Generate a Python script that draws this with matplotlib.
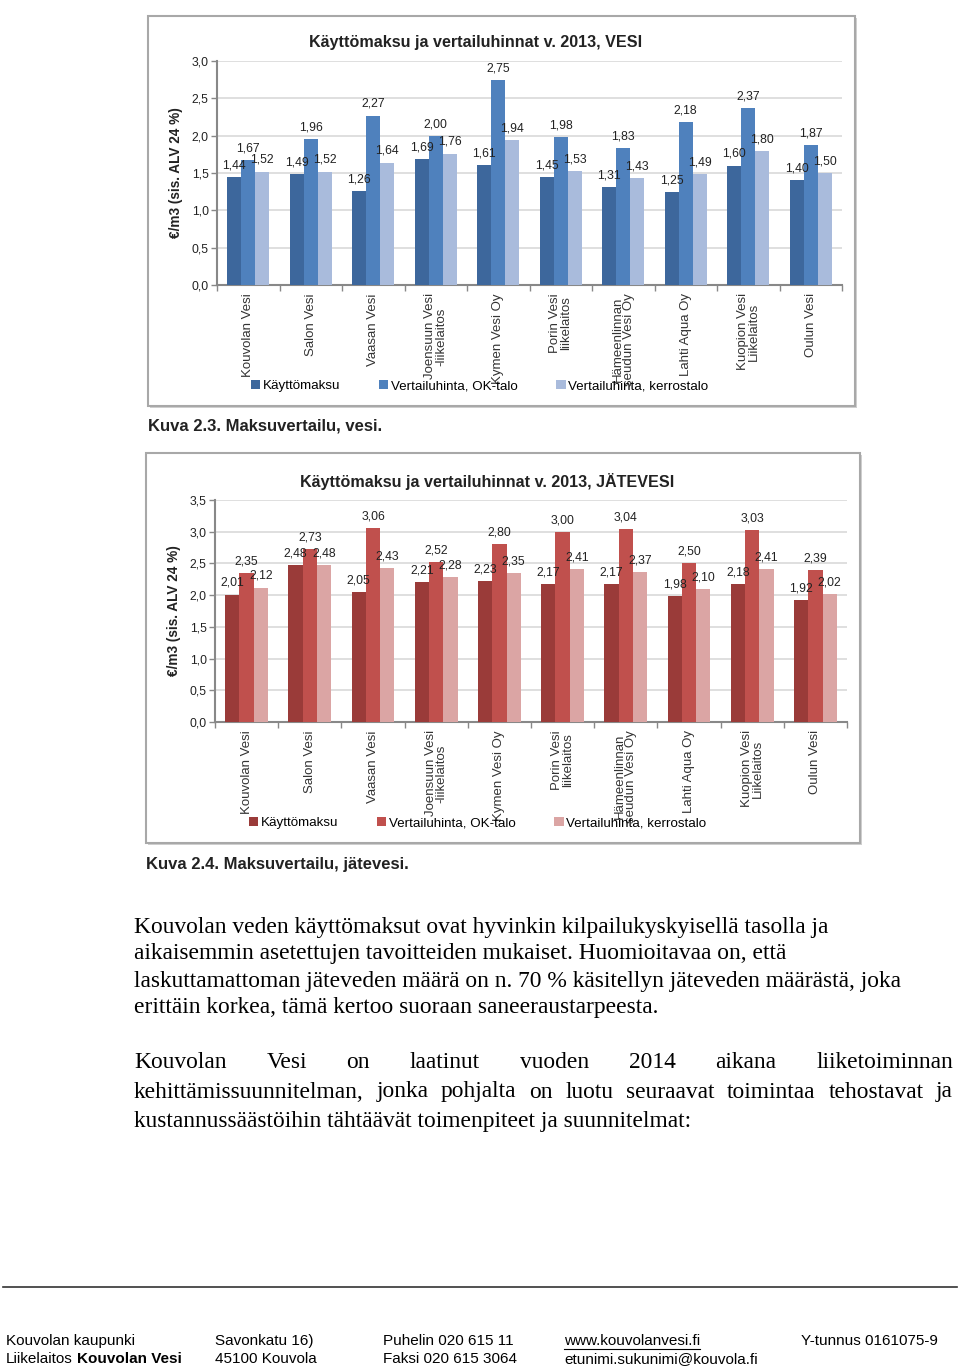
import matplotlib
matplotlib.use("Agg")
import matplotlib.pyplot as plt
import numpy as np
from matplotlib.patches import Rectangle, Patch
from matplotlib import font_manager

W, H = 960, 1372

categories = ["Kouvolan Vesi", "Salon Vesi", "Vaasan Vesi", "Joensuun Vesi\n-liikelaitos",
              "Kymen Vesi Oy", "Porin Vesi\nliikelaitos", "Hämeenlinnan\nseudun Vesi Oy",
              "Lahti Aqua Oy", "Kuopion Vesi\nLiikelaitos", "Oulun Vesi"]
series_names = ["Käyttömaksu", "Vertailuhinta, OK-talo", "Vertailuhinta, kerrostalo"]

vesi_kaytto = [1.44, 1.49, 1.26, 1.69, 1.61, 1.45, 1.31, 1.25, 1.60, 1.40]
vesi_ok = [1.67, 1.96, 2.27, 2.00, 2.75, 1.98, 1.83, 2.18, 2.37, 1.87]
vesi_kerros = [1.52, 1.52, 1.64, 1.76, 1.94, 1.53, 1.43, 1.49, 1.80, 1.50]

jate_kaytto = [2.01, 2.48, 2.05, 2.21, 2.23, 2.17, 2.17, 1.98, 2.18, 1.92]
jate_ok = [2.35, 2.73, 3.06, 2.52, 2.80, 3.00, 3.04, 2.50, 3.03, 2.39]
jate_kerros = [2.12, 2.48, 2.43, 2.28, 2.35, 2.41, 2.37, 2.10, 2.41, 2.02]

vesi_yticks = [0.0, 0.5, 1.0, 1.5, 2.0, 2.5, 3.0]
jate_yticks = [0.0, 0.5, 1.0, 1.5, 2.0, 2.5, 3.0, 3.5]

avail = {f.name for f in font_manager.fontManager.ttflist}
NARROW = ["Liberation Sans Narrow", "Liberation Sans", "DejaVu Sans"]
NARROW = [f for f in NARROW if f in avail] or ["DejaVu Sans"]
SERIF = ["Liberation Serif", "DejaVu Serif"]

fig = plt.figure(figsize=(W / 100, H / 100), dpi=100)
fig.patch.set_facecolor("white")


def px_axes(x0, y0, x1, y1, **kw):
    return fig.add_axes([x0 / W, 1 - y1 / H, (x1 - x0) / W, (y1 - y0) / H], **kw)


def chart(box, plot, title, title_x, series, colors, yticks, ymax, caption, capy):
    bx0, by0, bx1, by1 = box
    fig.patches.append(Rectangle(((bx0 + 2) / W, 1 - (by1 + 2) / H), (bx1 - bx0) / W, (by1 - by0) / H,
                                 transform=fig.transFigure, facecolor="#d0d0d0", edgecolor="none", zorder=-3))
    fig.patches.append(Rectangle((bx0 / W, 1 - by1 / H), (bx1 - bx0) / W, (by1 - by0) / H,
                                 transform=fig.transFigure, facecolor="white", edgecolor="#a8a8a8",
                                 linewidth=1.5, zorder=-2))
    ax = px_axes(*plot)
    ax.set_zorder(1)
    ax.patch.set_alpha(0)
    x = np.arange(len(categories))
    bw = 0.225
    for i, (vals, c) in enumerate(zip(series, colors)):
        bars = ax.bar(x + (i - 1) * bw, vals, bw, color=c, zorder=3)
        for b, v in zip(bars, vals):
            ax.text(b.get_x() + b.get_width() / 2, v + ymax * 0.025, f"{v:.2f}".replace(".", ","),
                    ha="center", va="bottom", fontsize=8.8, family=NARROW, color="#222222", zorder=4)
    ax.set_xlim(-0.5, len(categories) - 0.5)
    ax.set_ylim(0, ymax)
    ax.set_yticks(yticks)
    ax.set_yticklabels([f"{t:.1f}".replace(".", ",") for t in yticks], fontsize=8.8, family=NARROW,
                       color="#222222")
    ax.yaxis.grid(True, color="#d9d9d9", linewidth=1.2, zorder=0)
    ax.set_axisbelow(True)
    ax.set_xticks(np.arange(len(categories) + 1) - 0.5)
    ax.set_xticklabels([])
    ax.tick_params(axis="x", length=4, color="#888888", width=1)
    ax.tick_params(axis="y", length=4, color="#888888", width=1, pad=2)
    for s in ["top", "right"]:
        ax.spines[s].set_visible(False)
    ax.spines["left"].set_color("#888888")
    ax.spines["left"].set_linewidth(1.5)
    ax.spines["bottom"].set_color("#888888")
    ax.spines["bottom"].set_linewidth(1.5)
    for xi, lab in zip(x, categories):
        ax.annotate(lab, xy=(xi, 0), xycoords="data", xytext=(0, -6), textcoords="offset points",
                    rotation=90, ha="center", va="top", fontsize=9.5, family=NARROW,
                    color="#333333", linespacing=0.92, annotation_clip=False)
    ax.set_ylabel("€/m3 (sis. ALV 24 %)", fontsize=9.8, fontweight="bold", family=NARROW,
                  color="#222222", labelpad=6)
    fig.text(title_x / W, 1 - (plot[1] - 19) / H, title, ha="center", va="center", fontsize=11.6,
             fontweight="bold", family=NARROW, color="#222222")
    handles = [Patch(facecolor=c, edgecolor="none") for c in colors]
    fig.legend(handles, series_names, loc="center left",
               bbox_to_anchor=((bx0 + 103) / W, 1 - (by1 - 20) / H),
               ncol=3, frameon=False, prop={"family": NARROW, "size": 9.6}, handlelength=0.7,
               handleheight=0.7, handletextpad=0.2, columnspacing=2.9, borderpad=0, borderaxespad=0)
    fig.text((bx0 + 0) / W, 1 - capy / H, caption, ha="left", va="center", fontsize=12,
             fontweight="bold", family=NARROW, color="#222222")
    return ax


chart((148, 16, 855, 406), (217, 61, 842, 285), "Käyttömaksu ja vertailuhinnat v. 2013, VESI", 476,
      [vesi_kaytto, vesi_ok, vesi_kerros], ["#3d679c", "#4f81bd", "#a9bbdc"], vesi_yticks, 3.0,
      "Kuva 2.3. Maksuvertailu, vesi.", 426)
chart((146, 453, 860, 843), (215, 500, 847, 722), "Käyttömaksu ja vertailuhinnat v. 2013, JÄTEVESI", 487,
      [jate_kaytto, jate_ok, jate_kerros], ["#9a3b39", "#c0504d", "#dba5a4"], jate_yticks, 3.5,
      "Kuva 2.4. Maksuvertailu, jätevesi.", 865)

FS = 16.9
para1 = ["Kouvolan veden käyttömaksut ovat hyvinkin kilpailukyskyisellä tasolla ja",
         "aikaisemmin asetettujen tavoitteiden mukaiset. Huomioitavaa on, että",
         "laskuttamattoman jäteveden määrä on n. 70 % käsitellyn jäteveden määrästä, joka",
         "erittäin korkea, tämä kertoo suoraan saneeraustarpeesta."]
para1_y = [927, 954, 981, 1008]
for line, y in zip(para1, para1_y):
    fig.text(134 / W, 1 - y / H, line, ha="left", va="center", fontsize=FS, family=SERIF, color="black")

para2 = ["Kouvolan Vesi on laatinut vuoden 2014 aikana liiketoiminnan",
         "kehittämissuunnitelman, jonka pohjalta on luotu seuraavat toimintaa tehostavat ja",
         "kustannussäästöihin tähtäävät toimenpiteet ja suunnitelmat:"]
para2_y = [1062, 1092, 1121]
renderer = fig.canvas.get_renderer()
for li, (line, y) in enumerate(zip(para2, para2_y)):
    if li == len(para2) - 1:
        fig.text(134 / W, 1 - y / H, line, ha="left", va="center", fontsize=FS, family=SERIF, color="black")
        continue
    words = line.split()
    objs = [fig.text(0, 1 - y / H, w_, ha="left", va="center", fontsize=FS, family=SERIF, color="black")
            for w_ in words]
    widths = [o.get_window_extent(renderer).width for o in objs]
    gap = ((953 - 134) - sum(widths)) / (len(words) - 1)
    xpos = 134
    for o, wd in zip(objs, widths):
        o.set_x(xpos / W)
        xpos += wd + gap

# footer
fig.add_artist(plt.Line2D([3 / W, 957 / W], [1 - 1287 / H, 1 - 1287 / H], color="#333333", linewidth=1.2,
                          transform=fig.transFigure))
foot_cols = [(6, ["Kouvolan kaupunki", ""]), (215, ["Savonkatu 16)", "45100 Kouvola"]),
             (383, ["Puhelin 020 615 11", "Faksi 020 615 3064"]),
             (564, ["www.kouvolanvesi.fi", "etunimi.sukunimi@kouvola.fi"]),
             (801, ["Y-tunnus 0161075-9", ""])]
url_obj = None
for xcol, lines in foot_cols:
    for line, y in zip(lines, [1341, 1359]):
        if line:
            t = fig.text(xcol / W, 1 - y / H, line, ha="left", va="center", fontsize=11, family=NARROW,
                         color="black")
            if line.startswith("www"):
                url_obj = t
lead = fig.text(6 / W, 1 - 1359 / H, "Liikelaitos", ha="left", va="center", fontsize=11,
                family=NARROW, color="black")
lw_ = lead.get_window_extent(renderer).width
fig.text((6 + lw_ + 4) / W, 1 - 1359 / H, "Kouvolan Vesi", ha="left", va="center", fontsize=11,
         family=NARROW, fontweight="bold", color="black")
uw = url_obj.get_window_extent(renderer).width
fig.add_artist(plt.Line2D([564 / W, (564 + uw) / W], [1 - 1349 / H, 1 - 1349 / H], color="black", linewidth=0.8,
                          transform=fig.transFigure))

fig.savefig("out.png", dpi=100, facecolor="white")
